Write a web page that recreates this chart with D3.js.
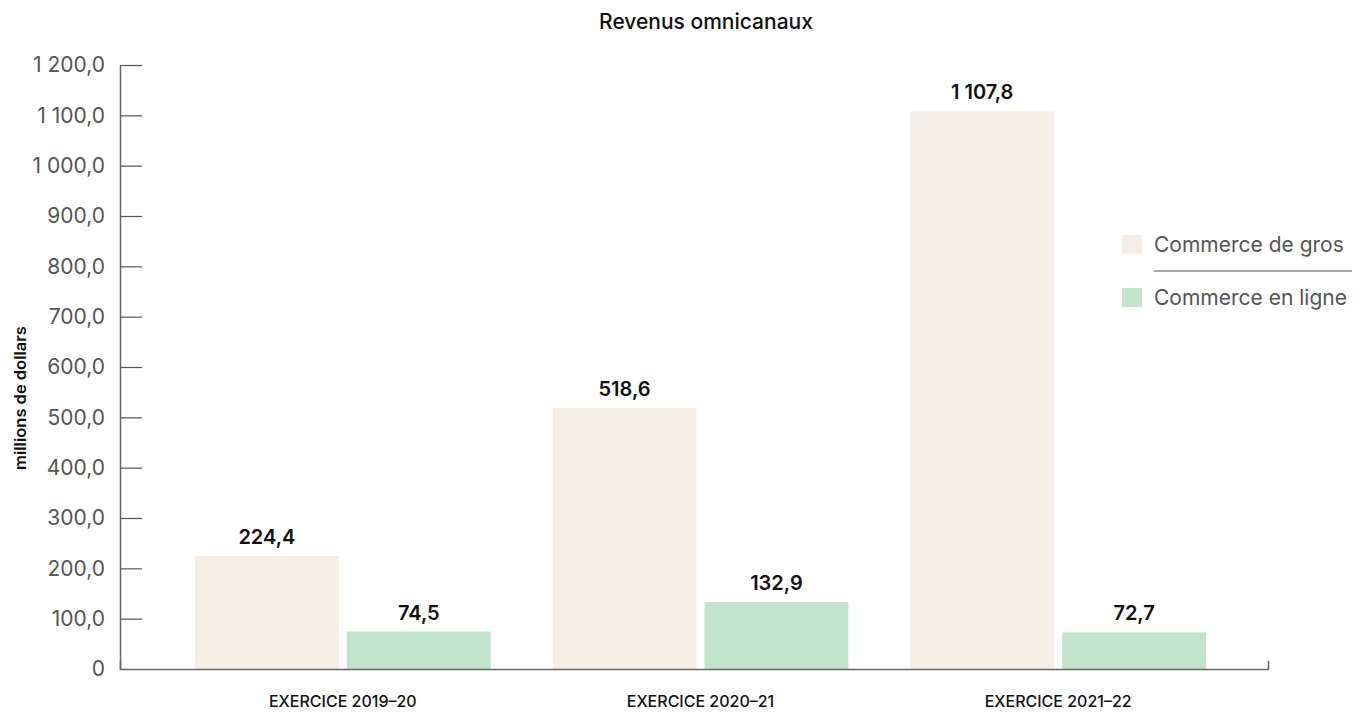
<!DOCTYPE html>
<html>
<head>
<meta charset="utf-8">
<script src="https://cdn.jsdelivr.net/npm/d3@7"></script>
<style>
  body { margin: 0; background: #fff; }
  svg { display: block; font-family: Inter, "Noto Sans", sans-serif; }
</style>
</head>
<body>
<svg id="chart" width="1366" height="712"></svg>
<script>
// data
const years = ["EXERCICE 2019–20", "EXERCICE 2020–21", "EXERCICE 2021–22"];
const series = ["Commerce de gros", "Commerce en ligne"];
const gros = [224.4, 518.6, 1107.8];
const enLigne = [74.5, 132.9, 72.7];
const yTicks = [0, 100, 200, 300, 400, 500, 600, 700, 800, 900, 1000, 1100, 1200];
const colors = ["#f6eee5", "#c2e4cc"];

const rows = years.map((y, i) => ({year: y, values: [gros[i], enLigne[i]]}));

const svg = d3.select("#chart");

const fr = d3.formatLocale({decimal: ",", thousands: " ", grouping: [3], currency: ["", " $"]});
const fmt = fr.format(",.1f");

var y = d3.scaleLinear().domain([0, 1200]).range([669, 65]);
var x0 = d3.scaleBand().domain(years).range([164, 1237]).paddingInner(0.173).paddingOuter(0.0865);
var x1 = d3.scaleBand().domain(series).range([0, x0.bandwidth()]).paddingInner(0.053);
var z = d3.scaleOrdinal().domain(series).range(colors);

// title
svg.append("text")
    .attr("x", 706).attr("y", 29)
    .attr("text-anchor", "middle")
    .style("font-size", "21px").style("font-weight", 500).style("fill", "#111")
    .text("Revenus omnicanaux");

// bars
var groups = svg.selectAll("g.group")
    .data(rows)
  .enter().append("g")
    .attr("class", "group")
    .attr("transform", d => "translate(" + x0(d.year) + ",0)");

var cells = groups.selectAll("g.cell")
    .data(d => d.values.map((v, i) => ({key: series[i], value: v})))
  .enter().append("g").attr("class", "cell");

cells.append("rect")
    .attr("x", d => x1(d.key))
    .attr("y", d => y(d.value))
    .attr("width", x1.bandwidth())
    .attr("height", d => y(0) - y(d.value))
    .attr("fill", d => z(d.key));

cells.append("text")
    .attr("x", d => x1(d.key) + x1.bandwidth() / 2)
    .attr("y", d => y(d.value) - 12)
    .attr("text-anchor", "middle")
    .style("font-size", "20px").style("font-weight", 600).style("fill", "#111")
    .text(d => fmt(d.value));

// y axis
var yAxis = svg.append("g")
    .attr("transform", "translate(120,0)")
    .call(d3.axisLeft(y).tickValues(yTicks).tickSizeInner(-22).tickSizeOuter(0).tickPadding(15)
        .tickFormat(d => d === 0 ? "0" : fmt(d)));
yAxis.select(".domain").attr("stroke", "#666").attr("stroke-width", 1.5);
yAxis.selectAll(".tick line").attr("stroke", "#555").attr("stroke-width", 1.2);
yAxis.selectAll(".tick").filter(d => d === 0).select("line").remove();
yAxis.selectAll(".tick text")
    .style("font-size", "21px").style("font-family", "Inter, sans-serif").style("fill", "#555").style("font-weight", 400);

// x axis line
var xLine = d3.scaleLinear().range([120, 1268]);
var xAxis = svg.append("g")
    .attr("transform", "translate(0," + y(0) + ")")
    .call(d3.axisBottom(xLine).tickValues([]).tickSizeOuter(-8));
xAxis.select(".domain").attr("stroke", "#666").attr("stroke-width", 1.5);

// category labels
svg.selectAll(".xlabel")
    .data(years)
  .enter().append("text")
    .attr("class", "xlabel")
    .attr("x", d => x0(d) + x0.bandwidth() / 2)
    .attr("y", 707)
    .attr("text-anchor", "middle")
    .style("font-size", "16px").style("font-weight", 500).style("fill", "#111")
    .text(d => d);

// y title
svg.append("text")
    .attr("transform", "translate(26,398) rotate(-90)")
    .attr("text-anchor", "middle")
    .style("font-size", "16.5px").style("font-weight", 600).style("fill", "#111")
    .text("millions de dollars");

// legend
var legend = svg.selectAll(".legend")
    .data(series)
  .enter().append("g")
    .attr("class", "legend")
    .attr("transform", (d, i) => "translate(1122," + (235 + i * 53) + ")");

legend.append("rect")
    .attr("width", 20).attr("height", 19)
    .attr("fill", d => z(d));

legend.append("text")
    .attr("x", 32).attr("y", 17)
    .style("font-size", "21px").style("font-weight", 400).style("fill", "#555")
    .text(d => d);

svg.append("line")
    .attr("x1", 1154).attr("x2", 1352)
    .attr("y1", 271).attr("y2", 271)
    .attr("stroke", "#555").attr("stroke-width", 1.2);
</script>
</body>
</html>
